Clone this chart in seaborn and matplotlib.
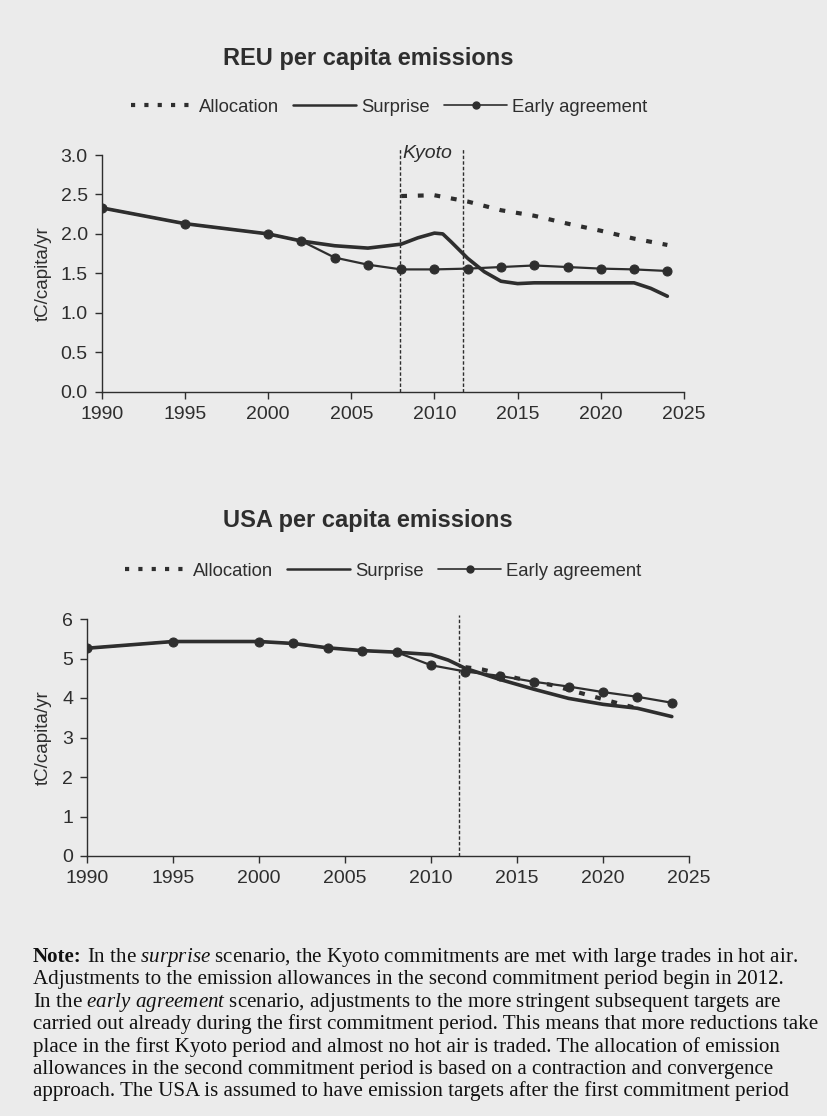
import numpy as np
import pandas as pd
import matplotlib
matplotlib.use("Agg")
import matplotlib.pyplot as plt
from matplotlib.lines import Line2D
import seaborn as sns

# ---- REU per capita emissions (tC/capita/yr) ----
reu_alloc_years = [2008, 2010, 2012, 2014, 2016, 2018, 2020, 2022, 2024]
reu_alloc = [2.48, 2.49, 2.41, 2.30, 2.23, 2.13, 2.04, 1.94, 1.86]

reu_surprise_years = [1990, 1995, 2000, 2002, 2004, 2006, 2008, 2009, 2010,
                      2010.5, 2011, 2012, 2013, 2014, 2015, 2016, 2018, 2020,
                      2022, 2023, 2024]
reu_surprise = [2.33, 2.13, 2.00, 1.91, 1.85, 1.82, 1.87, 1.95, 2.01,
                2.00, 1.90, 1.69, 1.52, 1.40, 1.37, 1.38, 1.38, 1.38,
                1.38, 1.31, 1.21]

reu_early_years = [1990, 1995, 2000, 2002, 2004, 2006, 2008, 2010, 2012,
                   2014, 2016, 2018, 2020, 2022, 2024]
reu_early = [2.33, 2.13, 2.00, 1.91, 1.70, 1.61, 1.55, 1.55, 1.56,
             1.58, 1.60, 1.58, 1.56, 1.55, 1.53]

# ---- USA per capita emissions (tC/capita/yr) ----
usa_alloc_years = [2012, 2013, 2015, 2017, 2019, 2021, 2022]
usa_alloc = [4.78, 4.72, 4.50, 4.33, 4.09, 3.85, 3.74]

usa_surprise_years = [1990, 1995, 2000, 2002, 2004, 2006, 2008, 2010, 2011,
                      2012, 2014, 2016, 2018, 2020, 2022, 2024]
usa_surprise = [5.26, 5.43, 5.43, 5.38, 5.27, 5.20, 5.16, 5.10, 4.96,
                4.75, 4.47, 4.22, 3.99, 3.84, 3.74, 3.53]

usa_early_years = [1990, 1995, 2000, 2002, 2004, 2006, 2008, 2010, 2012,
                   2014, 2016, 2018, 2020, 2022, 2024]
usa_early = [5.26, 5.43, 5.43, 5.38, 5.27, 5.20, 5.16, 4.83, 4.67,
             4.56, 4.41, 4.29, 4.15, 4.03, 3.88]

x_ticks = [1990, 1995, 2000, 2005, 2010, 2015, 2020, 2025]
reu_y_ticks = [0.0, 0.5, 1.0, 1.5, 2.0, 2.5, 3.0]
usa_y_ticks = [0, 1, 2, 3, 4, 5, 6]
kyoto_reu = [2007.9, 2011.7]
kyoto_usa = [2011.6]

series_labels = ["Allocation", "Surprise", "Early agreement"]

note_head = "Note:"
note_lines = [
    r"In the $\mathit{surprise}$ scenario, the Kyoto commitments are met with large trades in hot air.",
    "Adjustments to the emission allowances in the second commitment period begin in 2012.",
    r"In the $\mathit{early}$ $\mathit{agreement}$ scenario, adjustments to the more stringent subsequent targets are",
    "carried out already during the first commitment period. This means that more reductions take",
    "place in the first Kyoto period and almost no hot air is traded. The allocation of emission",
    "allowances in the second commitment period is based on a contraction and convergence",
    "approach. The USA is assumed to have emission targets after the first commitment period",
]

BG = "#ebebeb"
INK = "#2e2e2e"
NOTE_INK = "#111111"

sns.set_style("ticks")
plt.rcParams["font.family"] = ["Liberation Sans", "DejaVu Sans"]
plt.rcParams["mathtext.fontset"] = "custom"
plt.rcParams["mathtext.rm"] = "Liberation Serif"
plt.rcParams["mathtext.it"] = "Liberation Serif:italic"
plt.rcParams["mathtext.bf"] = "Liberation Serif:bold"

fig = plt.figure(figsize=(8.28, 11.16), dpi=100, facecolor=BG)

W, H = 828, 1116


def make_axes(left, right, bottom, top):
    return fig.add_axes([left / W, 1 - bottom / H, (right - left) / W, (bottom - top) / H])


ax1 = make_axes(101.7, 684, 391.7, 155)
ax2 = make_axes(87, 689, 856, 619)

alloc_style = dict(color=INK, linewidth=3.0, dashes=(1.4, 2.6), solid_capstyle="butt")
surprise_style = dict(color=INK, linewidth=2.6)
early_style = dict(color=INK, linewidth=1.6, marker="o", markersize=6.5,
                   markeredgecolor=INK, markerfacecolor=INK)


def draw_panel(ax, ay, a, sy, s, ey, e, yticks, yfmt, kyoto, vtop):
    ax.set_facecolor(BG)
    sns.lineplot(x=ay, y=a, ax=ax, **alloc_style)
    sns.lineplot(x=sy, y=s, ax=ax, **surprise_style)
    sns.lineplot(x=ey, y=e, ax=ax, **early_style)
    for k in kyoto:
        ax.plot([k, k], [yticks[0], vtop], color=INK, linewidth=1.0,
                linestyle=(0, (2.5, 1.5)), clip_on=False, zorder=1)
    ax.set_xlim(1990, 2025)
    ax.set_ylim(yticks[0], yticks[-1])
    ax.set_xticks(x_ticks)
    ax.set_xticklabels([str(t) for t in x_ticks])
    ax.set_yticks(yticks)
    ax.set_yticklabels([yfmt.format(t) for t in yticks])
    ax.tick_params(axis="both", labelsize=14, colors=INK, length=5, width=1.0,
                   direction="out", pad=5)
    ax.set_xlabel("")
    ax.set_ylabel("tC/capita/yr", fontsize=13.5, color=INK)
    pos = ax.get_position()
    ax.yaxis.set_label_coords((52 - pos.x0 * W) / (pos.width * W), 0.5)
    for side in ("top", "right"):
        ax.spines[side].set_visible(False)
    for side in ("left", "bottom"):
        ax.spines[side].set_color(INK)
        ax.spines[side].set_linewidth(1.0)


draw_panel(ax1, reu_alloc_years, reu_alloc, reu_surprise_years, reu_surprise,
           reu_early_years, reu_early, reu_y_ticks, "{:.1f}", kyoto_reu, 3.08)
draw_panel(ax2, usa_alloc_years, usa_alloc, usa_surprise_years, usa_surprise,
           usa_early_years, usa_early, usa_y_ticks, "{:d}", kyoto_usa, 6.1)

ax1.text(2009.6, 3.025, "Kyoto", fontsize=14, style="italic", color=INK,
         ha="center", va="center")

# titles
fig.text(368 / W, 1 - 58 / H, "REU per capita emissions", fontsize=17,
         fontweight="bold", color=INK, ha="center", va="center")
fig.text(368 / W, 1 - 521 / H, "USA per capita emissions", fontsize=17,
         fontweight="bold", color=INK, ha="center", va="center")

# legends
handles = [
    Line2D([], [], color=INK, linewidth=3.0, dashes=(1.0, 2.2)),
    Line2D([], [], color=INK, linewidth=1.8),
    Line2D([], [], color=INK, linewidth=1.2, marker="o", markersize=5,
           markerfacecolor=INK, markeredgecolor=INK),
]
for cx, cy in [(389, 107), (383, 571)]:
    fig.legend(handles, series_labels, loc="center", bbox_to_anchor=(cx / W, 1 - cy / H),
               ncol=3, frameon=False, fontsize=13.3, handlelength=3.4,
               handletextpad=0.25, columnspacing=0.8, labelcolor=INK)

# note text: bold lead-in, then the running paragraph
NOTE_SIZE = 15.1
NOTE_X = 33
renderer = fig.canvas.get_renderer()
head = fig.text(NOTE_X / W, 1 - 962 / H, note_head, fontsize=NOTE_SIZE,
                family="Liberation Serif", fontweight="bold", color=NOTE_INK,
                ha="left", va="baseline")
head_right = head.get_window_extent(renderer).x1
space_px = NOTE_SIZE * 100 / 72 * 0.25
for i, line in enumerate(note_lines):
    x = (head_right + space_px) if i == 0 else NOTE_X
    fig.text(x / W, 1 - (962 + i * 22.4) / H, line, fontsize=NOTE_SIZE,
             family="Liberation Serif", color=NOTE_INK, ha="left", va="baseline")

fig.savefig("out.png", dpi=100, facecolor=BG)
